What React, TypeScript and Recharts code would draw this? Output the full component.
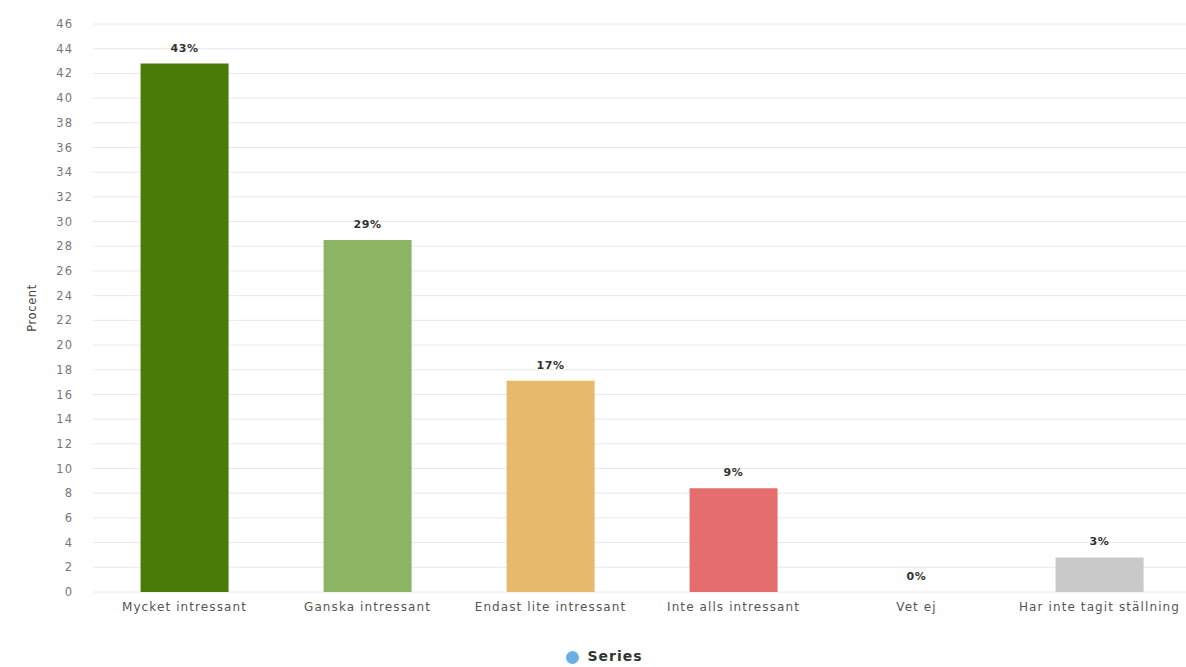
import React from 'react'
import { BarChart, Bar, XAxis, YAxis, CartesianGrid, Cell, Legend, ReferenceDot } from 'recharts'

const categories = [
  'Mycket intressant',
  'Ganska intressant',
  'Endast lite intressant',
  'Inte alls intressant',
  'Vet ej',
  'Har inte tagit ställning',
]
const values = [42.8, 28.5, 17.1, 8.4, 0, 2.8]
const valueLabels = ['43%', '29%', '17%', '9%', '0%', '3%']
const barColors = ['#4a7a08', '#8cb563', '#e6b96b', '#e56d6d', '#9bc2e6', '#c9c9c9']
const yTicks = Array.from({ length: 24 }, (_, i) => i * 2)

const data = categories.map((name, i) => ({ name, value: values[i], label: valueLabels[i] }))

const FONT = '"DejaVu Sans", sans-serif'

export default function App() {
  return (
    <div style={{ position: 'absolute', left: 0, top: 0, width: 1186, height: 667, overflow: 'hidden', background: '#fff', fontFamily: FONT }}>
      <BarChart
        width={1210}
        height={667}
        data={data}
        margin={{ top: 24, right: 19, bottom: 5, left: 0 }}
        barCategoryGap="26%"
      >
        <CartesianGrid vertical={false} stroke="#e8e8e8" />
        <XAxis
          dataKey="name"
          axisLine={false}
          tickLine={false}
          height={54}
          tickMargin={4}
          interval={0}
          tick={{ fill: '#555', fontSize: 12, fontFamily: FONT, letterSpacing: 1.1 }}
        />
        <YAxis
          width={93}
          domain={[0, 46]}
          ticks={yTicks}
          interval={0}
          axisLine={false}
          tickLine={false}
          tickMargin={14}
          tick={{ fill: '#777', fontSize: 11.5, fontFamily: FONT, letterSpacing: 1 }}
          label={(props: any) => {
            const vb = props.viewBox
            const cx = 32
            const cy = vb.y + vb.height / 2
            return (
              <text x={cx} y={cy} transform={`rotate(-90 ${cx} ${cy})`} textAnchor="middle" dominantBaseline="central" fill="#444" fontSize={11.5} fontFamily={FONT} letterSpacing={0.6}>
                Procent
              </text>
            )
          }}
        />
        <Legend
          verticalAlign="bottom"
          iconType="circle"
          iconSize={13}
          wrapperStyle={{ fontFamily: FONT, fontSize: 14, fontWeight: 'bold', bottom: 3, letterSpacing: 1, paddingLeft: 28, boxSizing: 'border-box' }}
          formatter={(v: any) => <span style={{ color: '#333', marginLeft: 4 }}>{v}</span>}
        />
        <Bar dataKey="value" name="Series" fill="#6aaee6" isAnimationActive={false}>
          {data.map((d, i) => (
            <Cell key={d.name} fill={barColors[i]} />
          ))}
        </Bar>
        {data.map((d) => (
          <ReferenceDot
            key={'lbl-' + d.name}
            x={d.name}
            y={d.value}
            r={0}
            fill="none"
            stroke="none"
            label={(p: any) => {
              const vb = p.viewBox
              return (
                <text
                  x={vb.x + vb.width / 2}
                  y={vb.y - 12}
                  textAnchor="middle"
                  fill="#333"
                  fontSize={11}
                  fontWeight="bold"
                  fontFamily={FONT}
                  letterSpacing={0.6}
                >
                  {d.label}
                </text>
              )
            }}
          />
        ))}
      </BarChart>
    </div>
  )
}
